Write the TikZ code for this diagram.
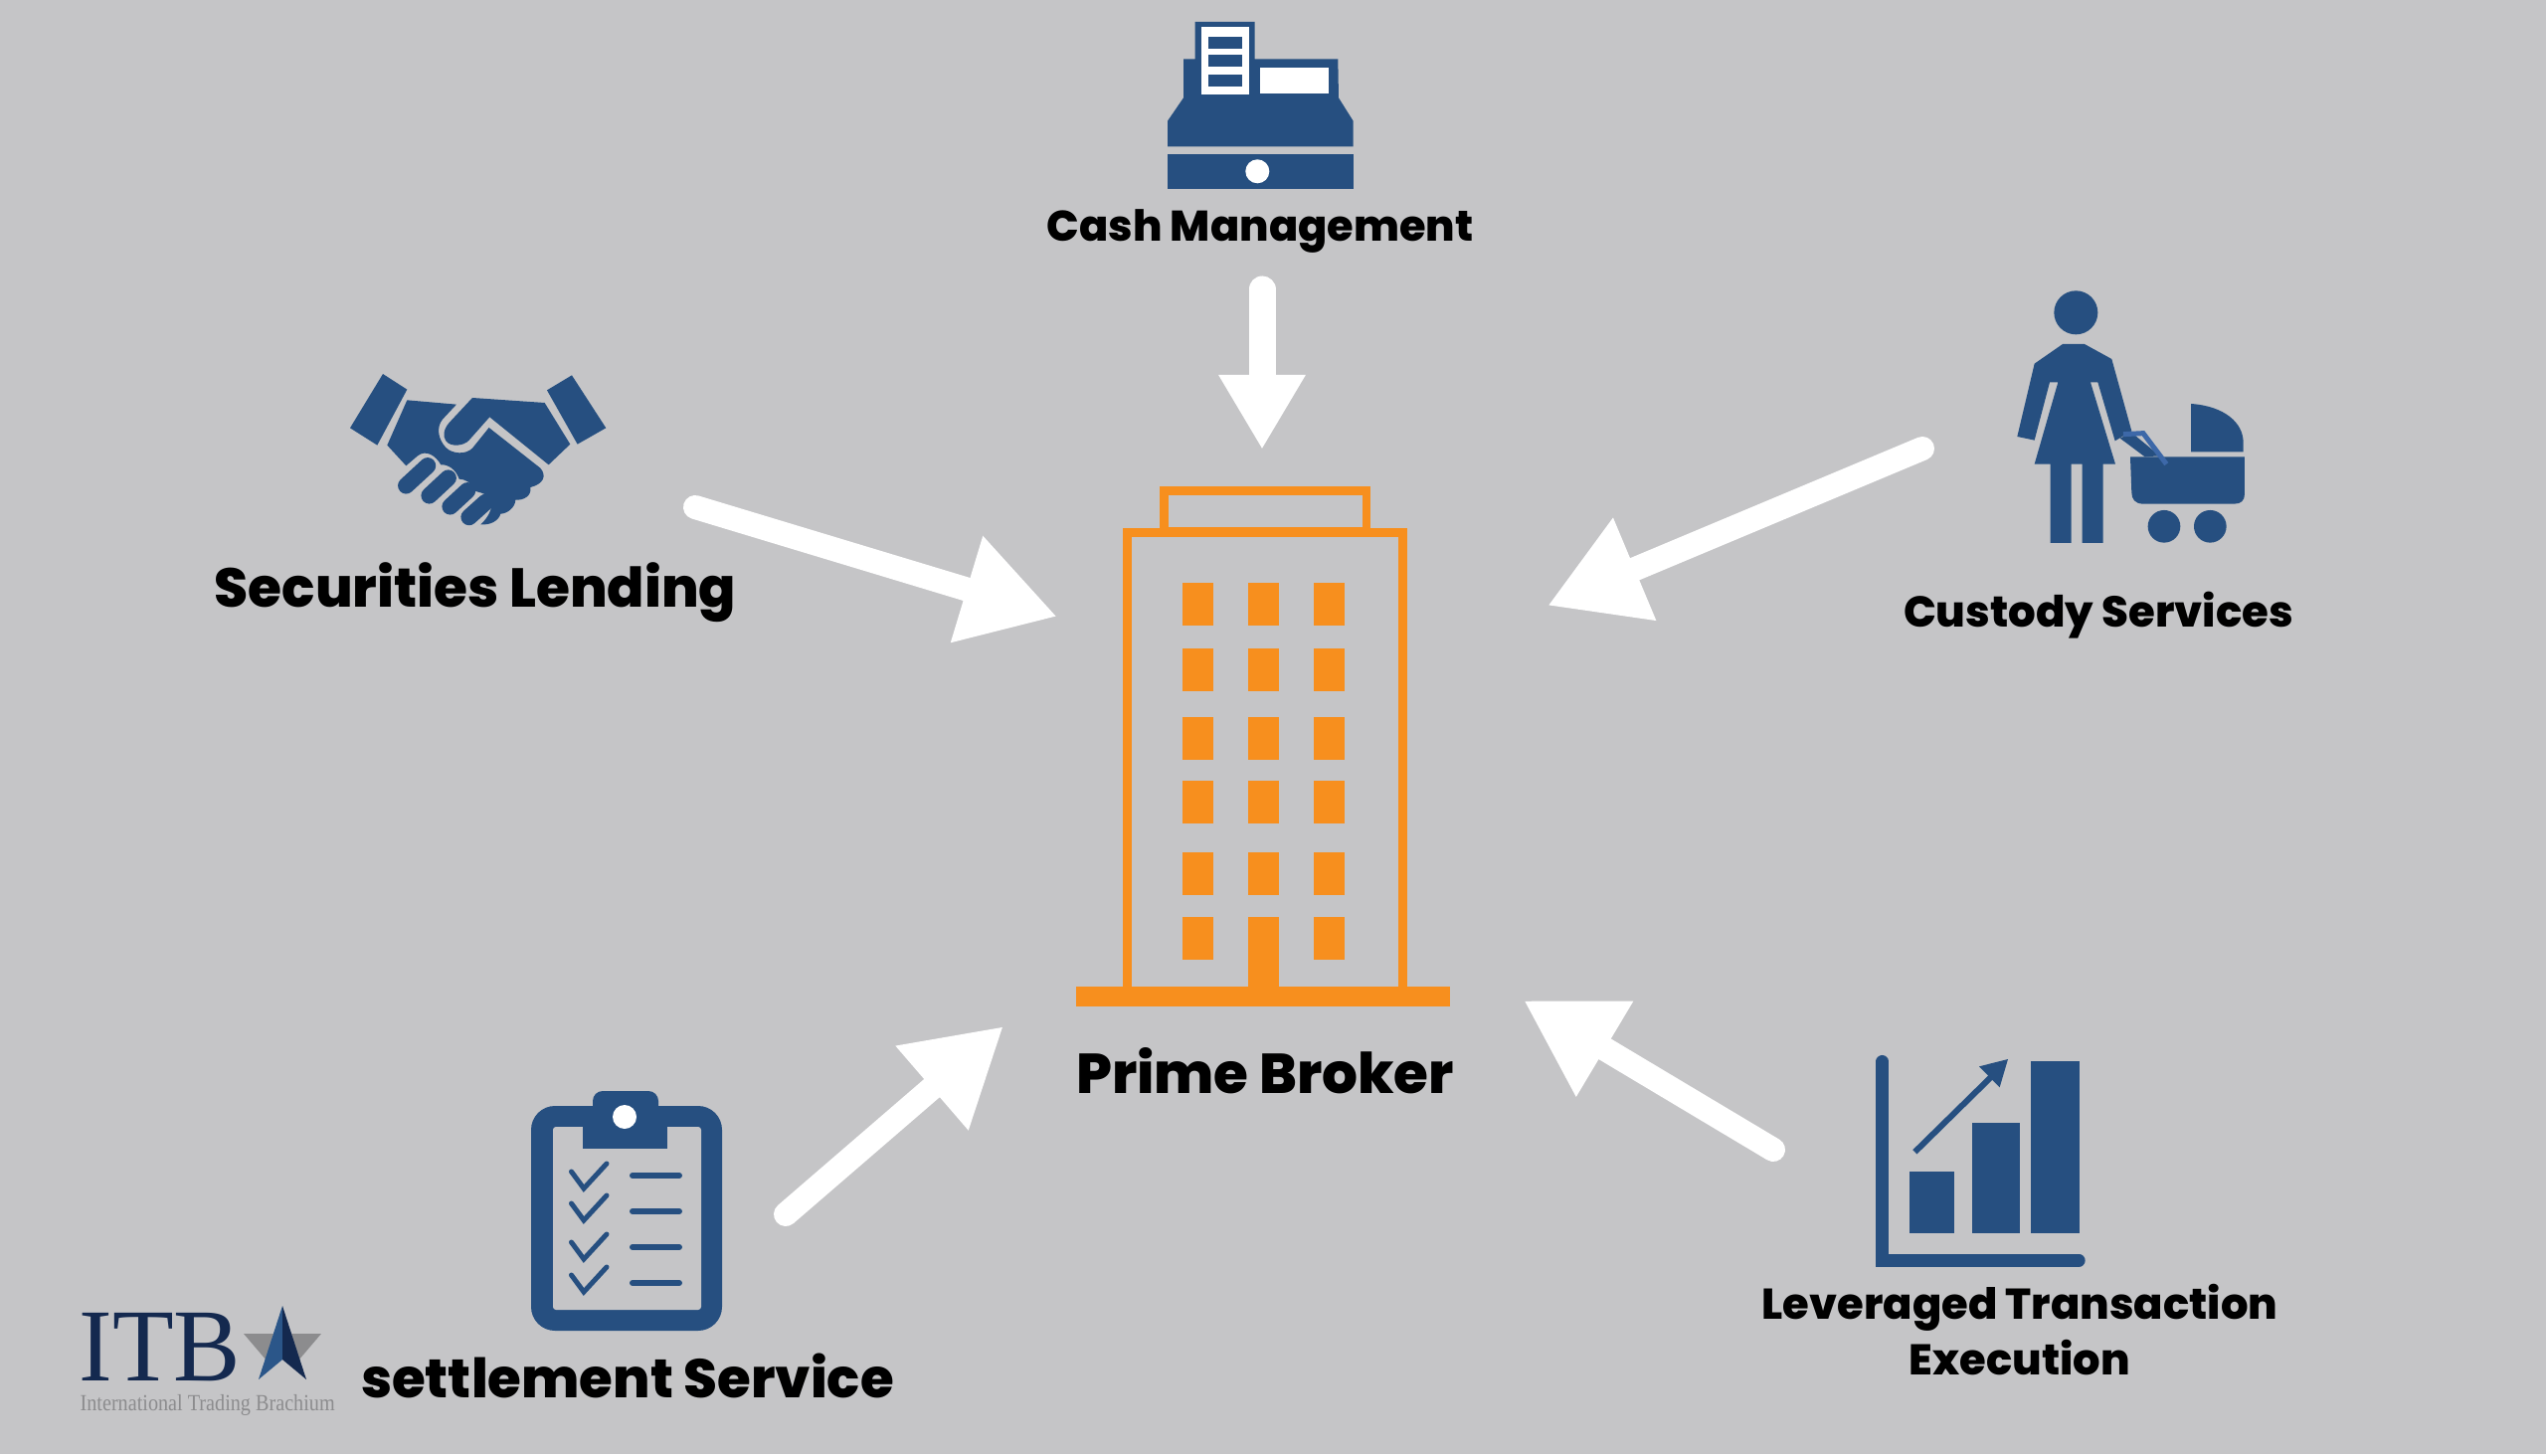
\documentclass[tikz,border=0pt]{standalone}
\usepackage{fontspec}
\setmainfont{Poppins ExtraBold}
\newfontfamily\logofont{Liberation Serif}
\usetikzlibrary{arrows.meta}
\definecolor{bgGrey}{HTML}{C5C5C7}
\definecolor{iconBlue}{HTML}{264F80}
\definecolor{handleBlue}{HTML}{3D68A8}
\definecolor{brokerOrange}{HTML}{F78F1E}
\definecolor{logoNavy}{HTML}{14294F}
\definecolor{logoBlue}{HTML}{2B5689}
\definecolor{logoGrey}{HTML}{8C8C8E}
\tikzset{
  label/.style={font=\fontsize{#1}{#1}\selectfont,text=black,inner sep=0pt,align=center},
  flow/.style={white,line width=0.24cm,line cap=round,-{Triangle[length=0.95cm,width=1.05cm]}},
  flowShort/.style={white,line width=0.27cm,line cap=round,-{Triangle[length=0.75cm,width=0.82cm]}},
  icon/.style={fill=iconBlue,draw=none},
  zoomed/.style={shift={#1},scale=0.3333}
}
\begin{document}
\begin{tikzpicture}[x=0.01cm,y=-0.01cm]
        \useasboundingbox (0,0) rectangle (2560,1464);
        \fill[white] (0,0) rectangle (2560,1464);
        \fill[bgGrey] (0,0) rectangle (2560,1462);

        % building
        \fill[brokerOrange] (1166,489) rectangle (1378,540);
        \fill[brokerOrange] (1129,531) rectangle (1415,995);
        \fill[bgGrey] (1175,498) rectangle (1370,530);
        \fill[bgGrey] (1138,540) rectangle (1406,992);
        \fill[brokerOrange] (1082,992) rectangle (1458,1012);
        \foreach \x in {1189,1255,1321}
          \foreach \y in {586,652,721,785,857,922}
            \fill[brokerOrange] (\x,\y) rectangle ++(30.5,43);
        \fill[brokerOrange] (1255,922) rectangle (1285.5,995);

        % cash register
        \begin{scope}[zoomed={(1100,0)}]
          \fill[icon] (305,66) -- (485,66) -- (485,178) -- (736,178) -- (738,295) -- (782,365) -- (782,442)
            -- (222,442) -- (222,365) -- (270,295) -- (270,178) -- (305,178) -- cycle;
          \fill[icon] (222,466) rectangle (782,570);
          \fill[white] (493,517) circle (36);
          \fill[white] (325,80) rectangle (467,284);
          \foreach \y in {112,166,226}
            \fill[icon] (345,\y) rectangle ++(103,34);
          \fill[white] (502,203) rectangle (709,283);
        \end{scope}

        % handshake
        \begin{scope}[zoomed={(320,350)}]
          \fill[icon] (195,78) -- (268,125) -- (178,293) -- (96,241) -- cycle;
          \fill[icon] (765,82) -- (868,241) -- (782,290) -- (690,127) -- cycle;
          \fill[icon] (465,150) -- (683,165) -- (760,290) -- (695,352) -- (517,208) -- (455,278)
            .. controls (440,295) and (400,300) .. (385,280) .. controls (375,265) and (378,245) .. (395,225) -- cycle;
          \fill[icon] (268,157) -- (417,170) -- (375,215) .. controls (355,240) and (362,275) .. (385,300)
            .. controls (405,320) and (445,322) .. (465,302) -- (515,240) -- (670,362) .. controls (690,385) and (680,410) .. (640,420)
            .. controls (645,445) and (620,460) .. (595,458) .. controls (595,480) and (570,500) .. (550,500)
            .. controls (545,520) and (520,535) .. (490,532) .. controls (515,510) and (535,470) .. (515,450)
            .. controls (500,435) and (480,435) .. (470,430) .. controls (465,405) and (440,395) .. (425,395)
            .. controls (415,365) and (390,350) .. (370,352) .. controls (355,325) and (325,305) .. (300,325) -- (265,355) -- (208,293) -- cycle;
          \foreach \a/\b/\c/\d in {265/415/330/355,335/445/392/392,398/478/450/430,455/510/505/465}
            \draw[iconBlue,line width=0.165cm,line cap=round] (\a,\b) -- (\c,\d);
        \end{scope}

        % woman with pram
        \begin{scope}[zoomed={(1980,270)}]
          \fill[icon] (322,133) circle (66);
          \fill[icon] (282,228) -- (348,228) -- (430,273) -- (490,490) -- (440,520) -- (388,343) -- (366,343) -- (441,590)
            -- (404,590) -- (404,828) -- (341,828) -- (341,590) -- (308,590) -- (308,828) -- (245,828) -- (245,590)
            -- (197,590) -- (268,343) -- (243,343) -- (197,518) -- (145,507) -- (197,287) -- cycle;
          \fill[icon] (455,512) -- (490,495) -- (575,565) -- (530,568) -- cycle;
          \fill[icon] (486,568) -- (831,568) -- (831,680) .. controls (831,700) and (820,710) .. (800,710)
            -- (525,710) .. controls (500,710) and (490,695) .. (490,675) -- cycle;
          \fill[icon] (669,408) .. controls (770,415) and (827,465) .. (827,525) -- (827,553) -- (669,553) -- cycle;
          \fill[icon] (588,778) circle (49);
          \fill[icon] (727,778) circle (49);
          \draw[handleBlue,line width=0.05cm] (465,500) -- (525,497) -- (595,590);
        \end{scope}

        % clipboard
        \fill[icon,rounded corners=0.24cm] (534,1112) rectangle (726,1338);
        \fill[icon,rounded corners=0.1cm] (596,1097) rectangle (662,1130);
        \fill[bgGrey,rounded corners=0.03cm] (556,1133) rectangle (705,1317);
        \fill[icon] (586,1125) rectangle (671,1155);
        \fill[white] (628,1123) circle (12);
        \foreach \y in {0,32,71,104}
          \draw[iconBlue,line width=0.05cm,line cap=round,line join=miter] (574.5,1178+\y) -- (587,1195+\y) -- (610,1170+\y);
        \foreach \y in {1182,1218,1254,1290}
          \draw[iconBlue,line width=0.06cm,line cap=round] (636,\y) -- (683,\y);

        % chart
        \begin{scope}[zoomed={(1860,1040)}]
          \draw[iconBlue,line width=0.127cm,line cap=round] (98,82) -- (98,682) -- (691,682);
          \fill[icon] (79,663) rectangle (117,701);
          \fill[icon] (181,415) rectangle (314,600);
          \fill[icon] (368,268) rectangle (514,600);
          \fill[icon] (546,82) rectangle (692,600);
          \draw[iconBlue,line width=0.06cm] (196,355) -- (430,125);
          \fill[icon] (477,75) -- (390,97) -- (452,160) -- cycle;
        \end{scope}

        % logo
        \fill[logoGrey] (245,1341) -- (275,1341) -- (268,1368) -- cycle;
        \fill[logoGrey] (293,1341) -- (323,1341) -- (300,1368) -- cycle;
        \fill[logoBlue] (284,1313) -- (284,1367) -- (260,1387) -- cycle;
        \fill[logoNavy] (284,1313) -- (284,1367) -- (308,1387) -- cycle;
        \node[inner sep=0pt,anchor=base west,text=logoNavy,font=\logofont\fontsize{29.6}{30}\selectfont,xscale=0.97] (itb) at (79,1388) {ITB};
        \node[inner sep=0pt,anchor=base west,text=logoGrey,font=\logofont\fontsize{6.6}{7}\selectfont,xscale=0.87] (itbName) at (80,1418) {International Trading Brachium};

        % labels
        \node[label=12.25] (cash) at (1267,233) {Cash Management};
        \node[label=15.65] (lending) at (478,596) {Securities Lending};
        \node[label=12.35] (custody) at (2110,619) {Custody Services};
        \node[label=16.05] (prime) at (1272,1077) {Prime Broker};
        \node[label=15.55] (settlement) at (631,1383) {settlement Service};
        \node[label=12.3] (leveraged) at (2031,1337) {Leveraged Transaction\\[1.4pt]Execution};

        % arrows
        \coordinate (cashTail) at (1269,291);
        \coordinate (cashTip) at (1269,452);
        \coordinate (lendingTail) at (699,510);
        \coordinate (lendingTip) at (1063,620);
        \coordinate (custodyTail) at (1933,451);
        \coordinate (custodyTip) at (1556,609);
        \coordinate (settlementTail) at (790,1221);
        \coordinate (settlementTip) at (1009,1032);
        \coordinate (leveragedTail) at (1783,1156);
        \coordinate (leveragedTip) at (1532,1006);
        \draw[flowShort] (cashTail) -- (cashTip);
        \draw[flow] (lendingTail) -- (lendingTip);
        \draw[flow] (custodyTail) -- (custodyTip);
        \draw[flow] (settlementTail) -- (settlementTip);
        \draw[flow] (leveragedTail) -- (leveragedTip);
\end{tikzpicture}
\end{document}
